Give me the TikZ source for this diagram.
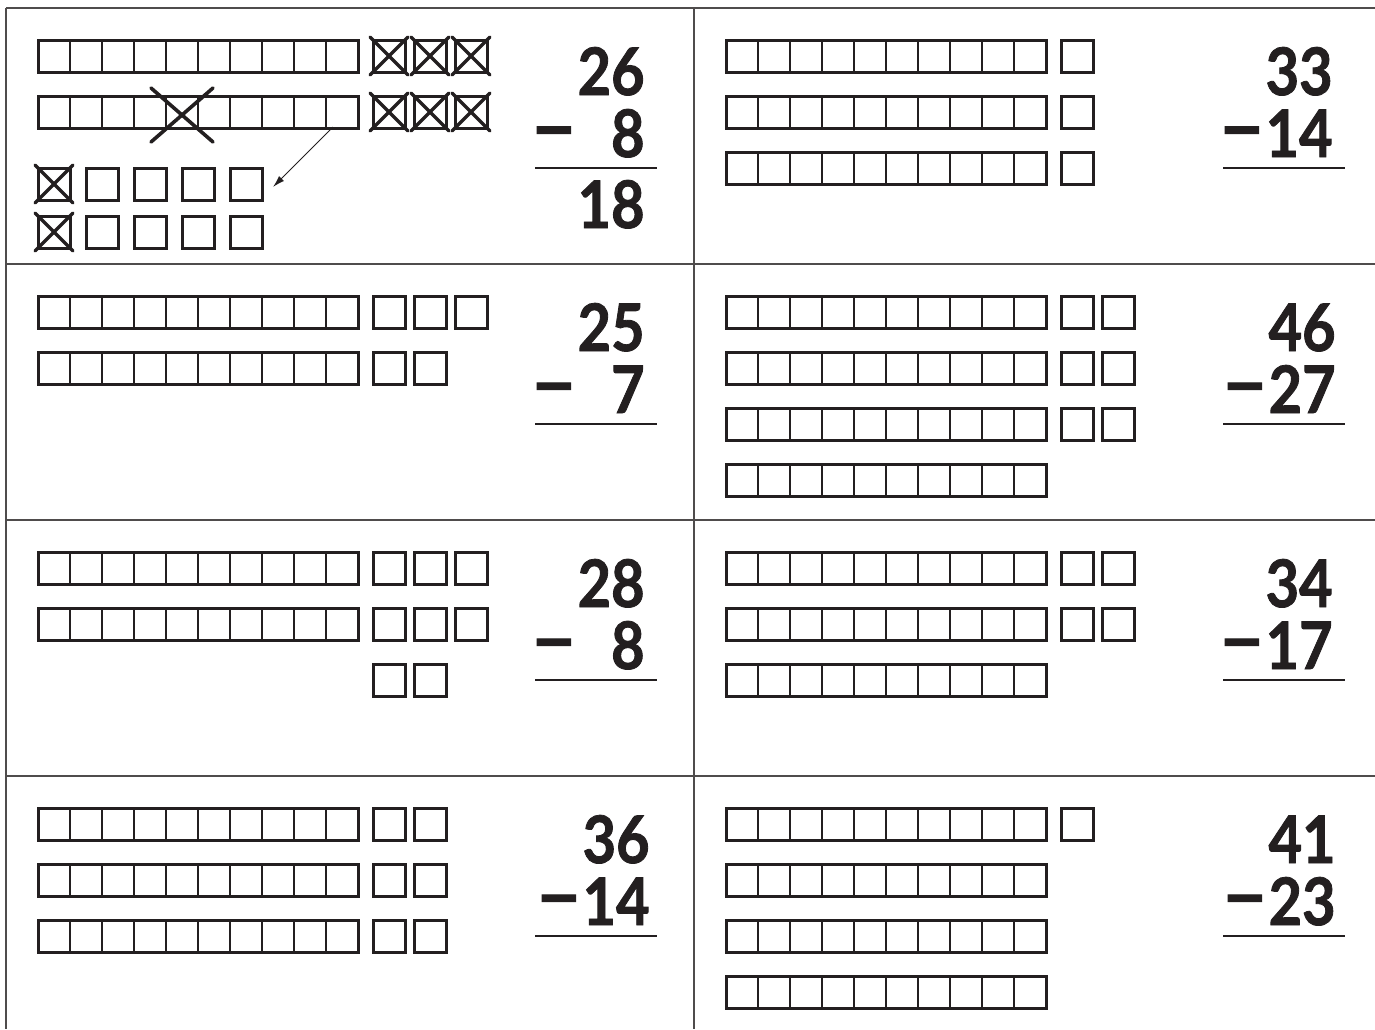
\documentclass[tikz,border=0pt]{standalone}
\usepackage{fontspec}
\usetikzlibrary{arrows.meta}
\newfontfamily\numfont{Lato}[FakeStretch=0.88, BoldFeatures={FakeBold=1.3}]
\definecolor{ink}{RGB}{35,31,32}

% a bar of ten: name, x, y
\newcommand{\tenbar}[3]{%
  \node[bar] (#1) at (#2,#3) {};
  \foreach \k in {1,...,9}
    \draw[divider] ({#2+32*\k},{#3}) -- ({#2+32*\k},{#3+32});
}
% a row of single boxes: prefix, x, y, count, pitch
\newcommand{\unitrow}[5]{%
  \foreach \j in {1,...,#4}
    \node[cell] (#1\j) at ({#2+#5*(\j-1)},{#3}) {};
}
\newcommand{\strikebox}[1]{%
  \draw[cross] (#1.north west) -- (#1.south east);
  \draw[cross] (#1.north east) -- (#1.south west);
}
\newcommand{\minus}{\raisebox{1.6pt}{\scalebox{1.42}[1.2]{–}}}

\begin{document}
\begin{tikzpicture}[x=0.5pt,y=-0.5pt]
\tikzset{
  bar/.style={draw=ink, line width=1.5pt, minimum width=160pt, minimum height=16pt,
    inner sep=0pt, outer sep=0pt, anchor=north west},
  cell/.style={draw=ink, line width=1.5pt, minimum size=16pt,
    inner sep=0pt, outer sep=0pt, anchor=north west},
  divider/.style={ink, line width=0.7pt},
  cross/.style={ink, line width=1.7pt, line cap=round, shorten <=-2pt, shorten >=-2pt},
  bigcross/.style={ink, line width=1.8pt, line cap=round},
  rule/.style={ink, line width=1.2pt},
  frame/.style={ink!80, line width=1pt},
  num/.style={font=\numfont\bfseries\fontsize{32.8pt}{36pt}\selectfont,
    text=ink, anchor=base east, inner sep=0pt}
}
\useasboundingbox (0,0) rectangle (1375,1029);

% frame
\draw[frame] (6,8) -- (1375,8);
\draw[frame] (6,264) -- (1375,264);
\draw[frame] (6,520) -- (1375,520);
\draw[frame] (6,776) -- (1375,776);
\draw[frame] (6,8) -- (6,1029);
\draw[frame] (694,8) -- (694,1029);

% 26 - 8
\begin{scope}[shift={(0,8)}]
\tenbar{p1t1}{38}{32}
\tenbar{p1t2}{38}{88}
\unitrow{p1u1}{373}{32}{3}{41}
\unitrow{p1u2}{373}{88}{3}{41}
\foreach \j in {1,2,3} {\strikebox{p1u1\j} \strikebox{p1u2\j}}
\unitrow{p1o1}{38}{160}{5}{48}
\unitrow{p1o2}{38}{208}{5}{48}
\strikebox{p1o11}
\strikebox{p1o21}
\draw[bigcross] (151,80) -- (213,134);
\draw[bigcross] (213,80) -- (151,134);
\coordinate (p1from) at (333,119);
\coordinate (p1to) at (273,179);
\draw[->, >={Latex[length=6pt,width=3.5pt]}, ink, line width=0.5pt] (p1from) -- (p1to);
\node[num] (p1a) at (645,87) {26};
\node[num] (p1b) at (645,149) {\minus\hphantom{0}8};
\draw[rule] (535,160) -- (657,160);
\node[num] (p1c) at (645,220) {18};
\end{scope}

% 33 - 14
\begin{scope}[shift={(688,8)}]
\tenbar{p2t1}{38}{32}
\tenbar{p2t2}{38}{88}
\tenbar{p2t3}{38}{144}
\unitrow{p2u1}{373}{32}{1}{41}
\unitrow{p2u2}{373}{88}{1}{41}
\unitrow{p2u3}{373}{144}{1}{41}
\node[num] (p2a) at (645,87) {33};
\node[num] (p2b) at (645,149) {\minus14};
\draw[rule] (535,160) -- (657,160);
\end{scope}

% 25 - 7
\begin{scope}[shift={(0,264)}]
\tenbar{p3t1}{38}{32}
\tenbar{p3t2}{38}{88}
\unitrow{p3u1}{373}{32}{3}{41}
\unitrow{p3u2}{373}{88}{2}{41}
\node[num] (p3a) at (645,87) {25};
\node[num] (p3b) at (645,149) {\minus\hphantom{0}7};
\draw[rule] (535,160) -- (657,160);
\end{scope}

% 46 - 27
\begin{scope}[shift={(688,264)}]
\tenbar{p4t1}{38}{32}
\tenbar{p4t2}{38}{88}
\tenbar{p4t3}{38}{144}
\tenbar{p4t4}{38}{200}
\unitrow{p4u1}{373}{32}{2}{41}
\unitrow{p4u2}{373}{88}{2}{41}
\unitrow{p4u3}{373}{144}{2}{41}
\node[num] (p4a) at (648,87) {46};
\node[num] (p4b) at (648,149) {\minus27};
\draw[rule] (535,160) -- (657,160);
\end{scope}

% 28 - 8
\begin{scope}[shift={(0,520)}]
\tenbar{p5t1}{38}{32}
\tenbar{p5t2}{38}{88}
\unitrow{p5u1}{373}{32}{3}{41}
\unitrow{p5u2}{373}{88}{3}{41}
\unitrow{p5u3}{373}{144}{2}{41}
\node[num] (p5a) at (645,87) {28};
\node[num] (p5b) at (645,149) {\minus\hphantom{0}8};
\draw[rule] (535,160) -- (657,160);
\end{scope}

% 34 - 17
\begin{scope}[shift={(688,520)}]
\tenbar{p6t1}{38}{32}
\tenbar{p6t2}{38}{88}
\tenbar{p6t3}{38}{144}
\unitrow{p6u1}{373}{32}{2}{41}
\unitrow{p6u2}{373}{88}{2}{41}
\node[num] (p6a) at (645,87) {34};
\node[num] (p6b) at (645,149) {\minus17};
\draw[rule] (535,160) -- (657,160);
\end{scope}

% 36 - 14
\begin{scope}[shift={(0,776)}]
\tenbar{p7t1}{38}{32}
\tenbar{p7t2}{38}{88}
\tenbar{p7t3}{38}{144}
\unitrow{p7u1}{373}{32}{2}{41}
\unitrow{p7u2}{373}{88}{2}{41}
\unitrow{p7u3}{373}{144}{2}{41}
\node[num] (p7a) at (650,87) {36};
\node[num] (p7b) at (650,149) {\minus14};
\draw[rule] (535,160) -- (657,160);
\end{scope}

% 41 - 23
\begin{scope}[shift={(688,776)}]
\tenbar{p8t1}{38}{32}
\tenbar{p8t2}{38}{88}
\tenbar{p8t3}{38}{144}
\tenbar{p8t4}{38}{200}
\unitrow{p8u1}{373}{32}{1}{41}
\node[num] (p8a) at (648,87) {41};
\node[num] (p8b) at (648,149) {\minus23};
\draw[rule] (535,160) -- (657,160);
\end{scope}
\end{tikzpicture}
\end{document}
